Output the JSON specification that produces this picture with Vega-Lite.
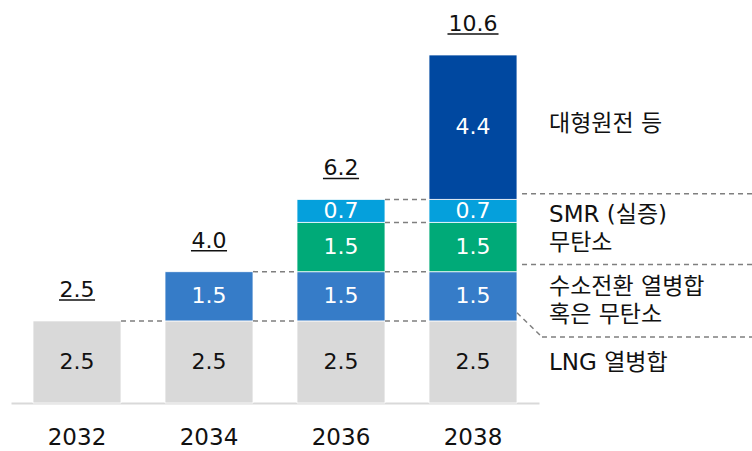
{
  "$schema": "https://vega.github.io/schema/vega-lite/v6.json",
  "width": 528,
  "height": 394,
  "autosize": "none",
  "padding": {"left": 11, "top": 9, "right": 213, "bottom": 48},
  "background": "white",
  "config": {"view": {"stroke": null}, "font": "DejaVu Sans"},
  "datasets": {
    "segments": [
      {"year": "2032", "cat": "LNG 열병합", "ord": 1, "value": 2.5},
      {"year": "2034", "cat": "LNG 열병합", "ord": 1, "value": 2.5},
      {"year": "2034", "cat": "수소전환 열병합", "ord": 2, "value": 1.5},
      {"year": "2036", "cat": "LNG 열병합", "ord": 1, "value": 2.5},
      {"year": "2036", "cat": "수소전환 열병합", "ord": 2, "value": 1.5},
      {"year": "2036", "cat": "무탄소", "ord": 3, "value": 1.5},
      {"year": "2036", "cat": "SMR (실증)", "ord": 4, "value": 0.7},
      {"year": "2038", "cat": "LNG 열병합", "ord": 1, "value": 2.5},
      {"year": "2038", "cat": "수소전환 열병합", "ord": 2, "value": 1.5},
      {"year": "2038", "cat": "무탄소", "ord": 3, "value": 1.5},
      {"year": "2038", "cat": "SMR (실증)", "ord": 4, "value": 0.7},
      {"year": "2038", "cat": "대형원전 등", "ord": 5, "value": 4.4}
    ],
    "totals": [
      {"year": "2032", "total": 2.5, "label": "2.5"},
      {"year": "2034", "total": 4.0, "label": "4.0"},
      {"year": "2036", "total": 6.2, "label": "6.2"},
      {"year": "2038", "total": 10.6, "label": "10.6"}
    ],
    "links": [
      {"from": "2032", "to": "2034", "level": 2.5},
      {"from": "2034", "to": "2036", "level": 2.5},
      {"from": "2034", "to": "2036", "level": 4.0},
      {"from": "2036", "to": "2038", "level": 2.5},
      {"from": "2036", "to": "2038", "level": 4.0},
      {"from": "2036", "to": "2038", "level": 5.5},
      {"from": "2036", "to": "2038", "level": 6.2}
    ],
    "labels": [
      {"year": "2038", "level": 8.5, "text": ["대형원전 등"]},
      {"year": "2038", "level": 5.73, "text": ["SMR (실증)", "무탄소"]},
      {"year": "2038", "level": 3.53, "text": ["수소전환 열병합", "혹은 무탄소"]},
      {"year": "2038", "level": 1.22, "text": ["LNG 열병합"]}
    ],
    "guides": [
      {"year": "2038", "level": 6.37},
      {"year": "2038", "level": 4.22}
    ],
    "guideLow": [
      {"year": "2038", "level": 2.75, "level2": 2.01}
    ]
  },
  "layer": [
    {
      "data": {"name": "segments"},
      "transform": [
        {"stack": "value", "groupby": ["year"], "sort": [{"field": "ord", "order": "ascending"}], "as": ["v0", "v1"]}
      ],
      "mark": {"type": "bar", "stroke": "white", "strokeWidth": 0.8},
      "encoding": {
        "x": {
          "field": "year", "type": "nominal",
          "scale": {"domain": ["2032", "2034", "2036", "2038"], "paddingInner": 0.3333, "paddingOuter": 0.1667},
          "axis": {
            "title": null, "labelAngle": 0, "ticks": false, "tickSize": 0,
            "domainColor": "#d9d9d9", "domainWidth": 2,
            "labelFontSize": 23, "labelColor": "#111111", "labelFont": "DejaVu Sans",
            "labelPadding": 23
          }
        },
        "y": {"field": "v0", "type": "quantitative", "scale": {"domain": [0, 12], "nice": false}, "axis": null},
        "y2": {"field": "v1"},
        "color": {
          "field": "cat", "type": "nominal", "legend": null,
          "scale": {
            "domain": ["LNG 열병합", "수소전환 열병합", "무탄소", "SMR (실증)", "대형원전 등"],
            "range": ["#d9d9d9", "#367cc8", "#00aa78", "#05a0dc", "#0048a0"]
          }
        }
      }
    },
    {
      "data": {"name": "segments"},
      "transform": [
        {"stack": "value", "groupby": ["year"], "sort": [{"field": "ord", "order": "ascending"}], "as": ["v0", "v1"]},
        {"calculate": "(datum.v0 + datum.v1) / 2", "as": "mid"}
      ],
      "mark": {"type": "text", "fontSize": 22, "baseline": "middle", "align": "center", "font": "DejaVu Sans"},
      "encoding": {
        "x": {"field": "year", "type": "nominal"},
        "y": {"field": "mid", "type": "quantitative"},
        "text": {"field": "value", "type": "quantitative", "format": ".1f"},
        "color": {"condition": {"test": "datum.cat === 'LNG 열병합'", "value": "#111111"}, "value": "white"}
      }
    },
    {
      "data": {"name": "totals"},
      "mark": {"type": "text", "fontSize": 22, "baseline": "alphabetic", "align": "center", "dy": -24, "color": "#111111", "font": "DejaVu Sans"},
      "encoding": {
        "x": {"field": "year", "type": "nominal"},
        "y": {"field": "total", "type": "quantitative"},
        "text": {"field": "label", "type": "nominal"}
      }
    },
    {
      "data": {"name": "totals"},
      "transform": [{"filter": "length(datum.label) <= 3"}],
      "mark": {"type": "rule", "yOffset": -21, "strokeWidth": 1.5, "color": "#111111"},
      "encoding": {
        "x": {"field": "year", "type": "nominal", "bandPosition": 0.295},
        "x2": {"field": "year", "bandPosition": 0.705},
        "y": {"field": "total", "type": "quantitative"}
      }
    },
    {
      "data": {"name": "totals"},
      "transform": [{"filter": "length(datum.label) > 3"}],
      "mark": {"type": "rule", "yOffset": -21, "strokeWidth": 1.5, "color": "#111111"},
      "encoding": {
        "x": {"field": "year", "type": "nominal", "bandPosition": 0.21},
        "x2": {"field": "year", "bandPosition": 0.79},
        "y": {"field": "total", "type": "quantitative"}
      }
    },
    {
      "data": {"name": "links"},
      "mark": {"type": "rule", "strokeDash": [5, 4], "strokeWidth": 1.5, "color": "#7f7f7f"},
      "encoding": {
        "x": {"field": "from", "type": "nominal", "bandPosition": 1},
        "x2": {"field": "to", "bandPosition": 0},
        "y": {"field": "level", "type": "quantitative"}
      }
    },
    {
      "data": {"name": "guides"},
      "mark": {"type": "rule", "strokeDash": [5, 4], "strokeWidth": 1.5, "color": "#7f7f7f"},
      "encoding": {
        "x": {"field": "year", "type": "nominal", "bandPosition": 1.057},
        "x2": {"field": "year", "bandPosition": 3.7},
        "y": {"field": "level", "type": "quantitative"}
      }
    },
    {
      "data": {"name": "guideLow"},
      "mark": {"type": "rule", "strokeDash": [5, 4], "strokeWidth": 1.5, "color": "#7f7f7f"},
      "encoding": {
        "x": {"field": "year", "type": "nominal", "bandPosition": 1.0},
        "x2": {"field": "year", "bandPosition": 1.284},
        "y": {"field": "level", "type": "quantitative"},
        "y2": {"field": "level2"}
      }
    },
    {
      "data": {"name": "guideLow"},
      "mark": {"type": "rule", "strokeDash": [5, 4], "strokeWidth": 1.5, "color": "#7f7f7f"},
      "encoding": {
        "x": {"field": "year", "type": "nominal", "bandPosition": 1.284},
        "x2": {"field": "year", "bandPosition": 3.7},
        "y": {"field": "level2", "type": "quantitative"}
      }
    },
    {
      "data": {"name": "labels"},
      "mark": {"type": "text", "fontSize": 23, "align": "left", "baseline": "middle", "lineHeight": 28, "color": "#111111", "font": "DejaVu Sans, Noto Sans CJK KR"},
      "encoding": {
        "x": {"field": "year", "type": "nominal", "bandPosition": 1.364},
        "y": {"field": "level", "type": "quantitative"},
        "text": {"field": "text"}
      }
    }
  ]
}
